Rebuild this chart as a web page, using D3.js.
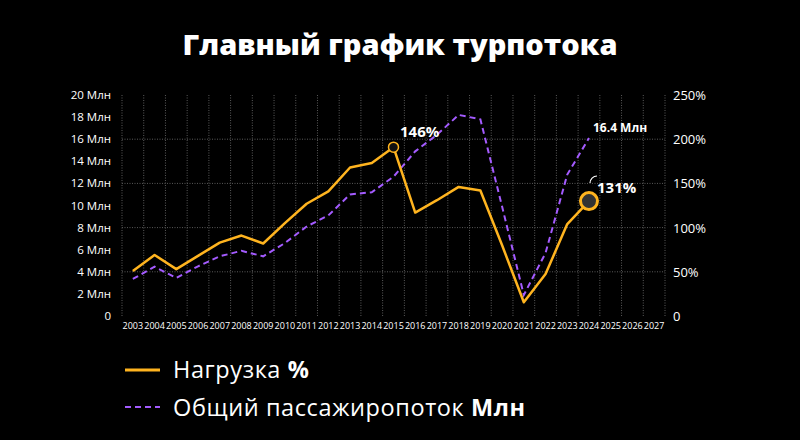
<!DOCTYPE html>
<html><head><meta charset="utf-8">
<script src="https://cdn.jsdelivr.net/npm/d3@7"></script>
<style>
body{margin:0;background:#000;}
svg{display:block;font-family:"Open Sans",Roboto,sans-serif;}
</style></head>
<body>
<div class="svg-container"></div>
<script>
// data
const years = d3.range(2003, 2028).map(String);
const passYears = d3.range(2003, 2025).map(String);
const passengers = [3.35,4.46,3.44,4.5,5.4,5.9,5.4,6.6,8.1,9.1,11.0,11.2,12.6,14.9,16.4,18.2,17.8,9.9,1.9,5.7,12.8,16.1];
const load = [51,69,53,68,83,91,82,105,127,141,168,173,191,117,131,146,142,80,15.5,47.5,104,130];
const leftTicks = [0,2,4,6,8,10,12,14,16,18,20];
const rightTicks = [0,50,100,150,200,250];

const w = 800, h = 440;
const margin = {top: 95, right: 135, bottom: 124, left: 122};
const orange = "#ffb41f", purple = "#a45bff";

const svg = d3.select(".svg-container").append("svg")
    .attr("width", w).attr("height", h);
svg.append("rect").attr("width", w).attr("height", h).attr("fill", "#000");

const x = d3.scaleBand().domain(years).range([margin.left, w - margin.right]);
const yL = d3.scaleLinear().domain([0, 20]).range([h - margin.bottom + 0, margin.top]);
const yR = d3.scaleLinear().domain([0, 250]).range(yL.range());
const cx = d => x(d) + x.bandwidth() / 2;

svg.append("text").attr("x", w / 2).attr("y", 55).attr("text-anchor", "middle")
    .attr("fill", "#fff").attr("font-size", 29).attr("font-weight", 800)
    .text("Главный график турпотока");

// grid
const grid = svg.append("g").attr("stroke", "#5a5a5a").attr("stroke-dasharray", "1,1.5").attr("stroke-width", 1);
grid.selectAll(".v").data(d3.range(years.length + 1)).enter().append("line")
    .attr("x1", i => margin.left + i * x.step()).attr("x2", i => margin.left + i * x.step())
    .attr("y1", margin.top).attr("y2", yL(0));
grid.selectAll(".h").data([4,8,12,16]).enter().append("line")
    .attr("x1", margin.left).attr("x2", w - margin.right)
    .attr("y1", d => yL(d)).attr("y2", d => yL(d));

// axes labels
svg.selectAll(".lt").data(leftTicks).enter().append("text")
    .attr("x", 111).attr("y", d => yL(d) + 4).attr("text-anchor", "end")
    .attr("fill", "#fff").attr("font-size", 11.5)
    .text(d => d === 0 ? "0" : d + " Млн");
svg.selectAll(".rt").data(rightTicks).enter().append("text")
    .attr("x", 673).attr("y", d => yR(d) + 5).attr("fill", "#fff").attr("font-size", 13)
    .text(d => d === 0 ? "0" : d + "%");
svg.selectAll(".yt").data(years).enter().append("text")
    .attr("x", d => cx(d)).attr("y", yL(0) + 13).attr("text-anchor", "middle")
    .attr("fill", "#fff").attr("font-size", 9).text(d => d);

// lines
const line = d3.line();
svg.append("path").attr("fill", "none").attr("stroke", purple).attr("stroke-width", 2)
    .attr("stroke-dasharray", "6,4")
    .attr("d", line(passYears.map((d, i) => [cx(d), yL(passengers[i])])));
svg.append("path").attr("fill", "none").attr("stroke", orange).attr("stroke-width", 2.5)
    .attr("stroke-linejoin", "round")
    .attr("d", line(passYears.map((d, i) => [cx(d), yR(load[i])])));

// markers & annotations
svg.append("circle").attr("cx", cx("2015")).attr("cy", yR(load[12])).attr("r", 5)
    .attr("fill", "#111").attr("stroke", orange).attr("stroke-width", 1.5);
svg.append("circle").attr("cx", cx("2024")).attr("cy", yR(load[21])).attr("r", 8.5)
    .attr("fill", "#333").attr("stroke", orange).attr("stroke-width", 3);
svg.append("path").attr("fill", "none").attr("stroke", "#fff").attr("stroke-width", 1.2)
    .attr("d", "M590,183 A7,7 0 0 1 597,176");
svg.append("text").attr("x", 400).attr("y", 137).attr("fill", "#fff")
    .attr("font-size", 15).attr("font-weight", 700).text("146%");
svg.append("text").attr("x", 593).attr("y", 132).attr("fill", "#fff")
    .attr("font-size", 12).attr("font-weight", 700).text("16.4 Млн");
svg.append("text").attr("x", 597).attr("y", 193).attr("fill", "#fff")
    .attr("font-size", 15).attr("font-weight", 700).text("131%");

// legend
const leg = svg.append("g");
leg.append("line").attr("x1", 125).attr("x2", 160).attr("y1", 370).attr("y2", 370)
    .attr("stroke", orange).attr("stroke-width", 3);
leg.append("line").attr("x1", 125).attr("x2", 160).attr("y1", 407).attr("y2", 407)
    .attr("stroke", purple).attr("stroke-width", 2).attr("stroke-dasharray", "6,4");
const t1 = leg.append("text").attr("x", 173).attr("y", 378).attr("fill", "#fff")
    .attr("font-size", 23.5).attr("letter-spacing", 0.6);
t1.append("tspan").text("Нагрузка ");
t1.append("tspan").attr("font-weight", 700).text("%");
const t2 = leg.append("text").attr("x", 173).attr("y", 416).attr("fill", "#fff")
    .attr("font-size", 23.5).attr("letter-spacing", 0.6);
t2.append("tspan").text("Общий пассажиропоток ");
t2.append("tspan").attr("font-weight", 700).text("Млн");
</script>
</body></html>
